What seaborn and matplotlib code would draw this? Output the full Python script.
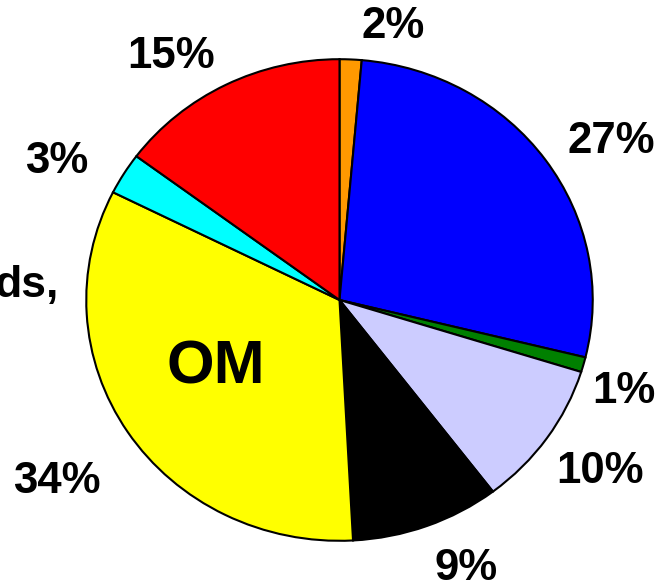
import matplotlib
matplotlib.use("Agg")
import matplotlib.pyplot as plt
import seaborn as sns

# slice shares (clockwise from 12 o'clock)
shares = [1.4, 27.4, 1.0, 9.8, 9.5, 33.2, 2.8, 14.8]
labels = ["2%", "27%", "1%", "10%", "9%", "34%", "3%", "15%"]
colors = ["#FF9900", "#0000FF", "#008000", "#CCCCFF",
          "#000000", "#FFFF00", "#00FFFF", "#FF0000"]

# label anchor points in pixels (x, baseline y) of the 658x586 picture
label_pos = [(393, 38), (611, 153), (624, 403), (600, 483),
             (466, 580), (57, 493), (57, 173), (171, 68)]

sns.set_theme(style="white")
plt.rcParams["font.family"] = ["Liberation Sans", "DejaVu Sans"]

W, H = 658, 586
fig = plt.figure(figsize=(W / 100, H / 100), dpi=100)

# pie is slightly wider than tall in the reference
left, right, top, bottom = 85, 594, 58, 542
ax = fig.add_axes([left / W, 1 - bottom / H, (right - left) / W, (bottom - top) / H])
ax.pie(shares, colors=colors, startangle=90, counterclock=False,
       wedgeprops={"edgecolor": "black", "linewidth": 1.5})
ax.set_aspect("auto")
ax.set_xlim(-1.005, 1.005)
ax.set_ylim(-1.005, 1.005)
ax.axis("off")

for txt, (px, py) in zip(labels, label_pos):
    fig.text(px / W, 1 - py / H, txt, ha="center", va="baseline",
             fontsize=31.5, fontweight="bold", color="black")

fig.text(216 / W, 1 - 383 / H, "OM", ha="center", va="baseline",
         fontsize=44, fontweight="bold", color="black")

# label on the far left is cut by the picture edge
fig.text(58 / W, 1 - 297 / H, "ds,", ha="right", va="baseline",
         fontsize=32, fontweight="bold", color="black")

fig.savefig("out.png", dpi=100)
